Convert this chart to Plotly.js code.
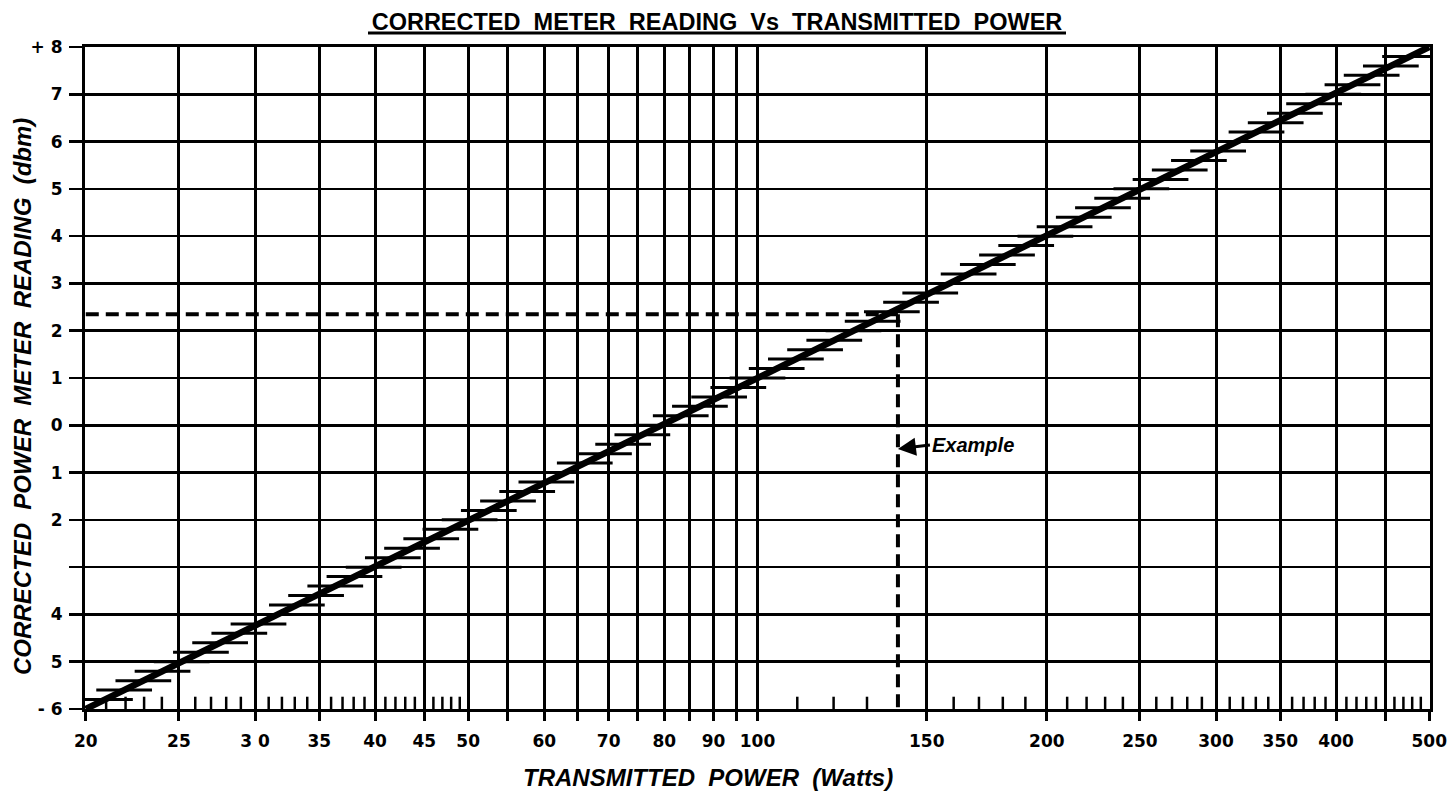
<!DOCTYPE html>
<html>
<head>
<meta charset="utf-8">
<script src="https://cdn.plot.ly/plotly-3.0.1.min.js"></script>
<style>html,body{margin:0;padding:0;background:#fff;}#chart{width:1448px;height:791px;}</style>
</head>
<body>
<div id="chart"></div>
<script>
// ---- data ----
const lineWatts = [20, 500];
const lineDbm = [-6, 8];

const xTickVals = [20, 25, 30, 35, 40, 45, 50, 55, 60, 65, 70, 75, 80, 85, 90, 95, 100, 150, 200, 250, 300, 350, 400, 450, 500];
const xTickText = ["20", "25", "3 0", "35", "40", "45", "50", "", "60", "", "70", "", "80", "", "90", "", "100", "150", "200", "250", "300", "350", "400", "", "500"];

const yTickVals = [-6, -5, -4, -3, -2, -1, 0, 1, 2, 3, 4, 5, 6, 7, 8];
const yTickText = ["- 6", "5", "4", "", "2", "1", "0", "1", "2", "3", "4", "5", "6", "7", "+ 8"];

const minorTickWatts = [21, 22, 23, 24, 26, 27, 28, 29, 31, 32, 33, 34, 36, 37, 38, 39, 41, 42, 43, 44, 46, 47, 48, 49,
  110, 120, 130, 160, 170, 180, 190, 210, 220, 230, 240, 260, 270, 280, 290, 310, 320, 330, 340,
  360, 370, 380, 390, 410, 420, 430, 440, 460, 470, 480, 490];

const stepMarkDbm = [-5.8, -5.6, -5.4, -5.2, -5.0, -4.8, -4.6, -4.4, -4.2, -4.0, -3.8, -3.6, -3.4, -3.2, -3.0,
  -2.8, -2.6, -2.4, -2.2, -2.0, -1.8, -1.6, -1.4, -1.2, -1.0, -0.8, -0.6, -0.4, -0.2, 0.0,
  0.2, 0.4, 0.6, 0.8, 1.0, 1.2, 1.4, 1.6, 1.8, 2.0, 2.2, 2.4, 2.6, 2.8, 3.0, 3.2, 3.4, 3.6, 3.8, 4.0,
  4.2, 4.4, 4.6, 4.8, 5.0, 5.2, 5.4, 5.6, 5.8, 6.0, 6.2, 6.4, 6.6, 6.8, 7.0, 7.2, 7.4, 7.6, 7.8];

const exampleWatts = 140;
const exampleDbm = 2.35;
const exampleNoteDbm = -0.5;

// ---- helpers ----
function wattsAtDbm(d) {
  const l0 = Math.log10(lineWatts[0]), l1 = Math.log10(lineWatts[1]);
  const t = (d - lineDbm[0]) / (lineDbm[1] - lineDbm[0]);
  return Math.pow(10, l0 + t * (l1 - l0));
}
const markHalf = 0.029; // half width of step marks in decades
const stepX = [], stepY = [];
stepMarkDbm.forEach(d => {
  const w = wattsAtDbm(d);
  stepX.push(w * Math.pow(10, -markHalf), w * Math.pow(10, markHalf), null);
  stepY.push(d, d, null);
});
const minX = [], minY = [];
minorTickWatts.forEach(w => { minX.push(w, w, null); minY.push(-6, -5.74, null); });

const traces = [
  {x: minX, y: minY, mode: 'lines', line: {color: '#000', width: 2.5}, hoverinfo: 'skip', showlegend: false},
  {x: stepX, y: stepY, mode: 'lines', line: {color: '#000', width: 3}, hoverinfo: 'skip', showlegend: false},
  {x: lineWatts, y: lineDbm, mode: 'lines', line: {color: '#000', width: 6.5}, showlegend: false},
  {x: [lineWatts[0], exampleWatts], y: [exampleDbm, exampleDbm], mode: 'lines',
   line: {color: '#000', width: 4, dash: '13px,7px'}, showlegend: false},
  {x: [exampleWatts, exampleWatts], y: [exampleDbm, lineDbm[0]], mode: 'lines',
   line: {color: '#000', width: 4, dash: '13px,7px'}, showlegend: false}
];

const tickFont = {family: 'DejaVu Sans', size: 17, color: '#000', weight: 'bold'};
const pad = 0.0008;
const layout = {
  width: 1448, height: 791,
  margin: {l: 85, r: 18, t: 47, b: 82},
  paper_bgcolor: '#fff', plot_bgcolor: '#fff',
  showlegend: false,
  title: {
    text: '<b>CORRECTED  METER  READING  Vs  TRANSMITTED  POWER</b>',
    font: {family: 'Liberation Sans', size: 23.5, color: '#000'},
    x: 717 / 1448, xref: 'container', xanchor: 'center',
    y: 1 - 22 / 791, yref: 'container', yanchor: 'middle'
  },
  xaxis: {
    type: 'log',
    range: [Math.log10(lineWatts[0]) - pad, Math.log10(lineWatts[1]) + pad],
    tickmode: 'array', tickvals: xTickVals, ticktext: xTickText,
    showgrid: true, gridcolor: '#000', gridwidth: 3,
    showline: true, linecolor: '#000', linewidth: 3, mirror: true,
    ticks: 'outside', ticklen: 9, tickwidth: 3, tickcolor: '#000',
    ticklabelstandoff: 6, ticklabeloverflow: 'allow',
    tickfont: tickFont, zeroline: false, fixedrange: true
  },
  yaxis: {
    range: [lineDbm[0], lineDbm[1]],
    tickmode: 'array', tickvals: yTickVals, ticktext: yTickText,
    showgrid: true, gridcolor: '#000', gridwidth: 2.5,
    showline: true, linecolor: '#000', linewidth: 3, mirror: true,
    ticks: 'outside', ticklen: 13, tickwidth: 2.5, tickcolor: '#000',
    ticklabelstandoff: 3,
    tickfont: tickFont, zeroline: false, fixedrange: true
  },
  shapes: [
    {type: 'line', xref: 'paper', yref: 'paper', x0: (368 - 85) / 1345, x1: (1066 - 85) / 1345,
     y0: (709 - 33) / 662, y1: (709 - 33) / 662, line: {color: '#000', width: 3}}
  ],
  annotations: [
    {xref: 'paper', yref: 'paper', x: (708 - 85) / 1345, y: (709 - 777) / 662,
     text: '<b><i>TRANSMITTED  POWER  (Watts)</i></b>', showarrow: false,
     font: {family: 'Liberation Sans', size: 24, color: '#000'}, xanchor: 'center', yanchor: 'middle'},
    {xref: 'paper', yref: 'paper', x: (23 - 85) / 1345, y: (709 - 397) / 662,
     text: '<b><i>CORRECTED  POWER  METER  READING  (dbm)</i></b>', showarrow: false, textangle: -90,
     font: {family: 'Liberation Sans', size: 24, color: '#000'}, xanchor: 'center', yanchor: 'middle'},
    {x: Math.log10(exampleWatts), y: exampleNoteDbm, xref: 'x', yref: 'y',
     text: '<b><i>Example</i></b>', showarrow: true, arrowhead: 2, arrowsize: 1.2, arrowwidth: 3,
     arrowcolor: '#000', ax: 32, ay: -4, xanchor: 'left', yanchor: 'middle',
     font: {family: 'Liberation Sans', size: 20, color: '#000'}}
  ]
};

Plotly.newPlot('chart', traces, layout, {displayModeBar: false, staticPlot: true});
</script>
</body>
</html>
